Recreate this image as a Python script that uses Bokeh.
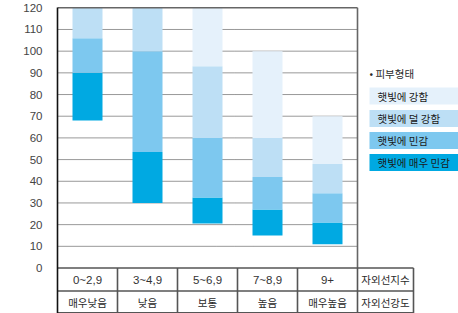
from bokeh.plotting import figure
from bokeh.models import Range1d, FixedTicker
from bokeh.core.properties import value
from bokeh.embed import file_html
from bokeh.resources import INLINE

# ---- data ----
uv_index = ["0~2,9", "3~4,9", "5~6,9", "7~8,9", "9+"]
uv_level = ["매우낮음", "낮음", "보통", "높음", "매우높음"]
row_titles = ["자외선지수", "자외선강도"]
legend_title = "• 피부형태"
series_names = ["햇빛에 강함", "햇빛에 덜 강함", "햇빛에 민감", "햇빛에 매우 민감"]
colors = ["#e5f1fb", "#bddff5", "#7dc8ef", "#00a9e2"]

very_sensitive_bottom = [68, 30, 20.5, 15, 11]
very_sensitive_top = [90, 53.5, 32.5, 27, 21]
sensitive_top = [106, 100, 60, 42, 34.5]
less_strong_top = [120, 120, 93, 60, 48]
strong_top = [120, 120, 120, 100, 70]
y_ticks = [0, 10, 20, 30, 40, 50, 60, 70, 80, 90, 100, 110, 120]

# ---- layout constants ----
W, H = 458, 313
left = 57
zero_px, top_px = 267.5, 7.3
px_unit = (zero_px - top_px) / 120.0
frame_w = W - left
x_max = frame_w / 60.0
y_top = 120 + top_px / px_unit
y_bot = -(H - zero_px) / px_unit
row_h = 23 / px_unit
n = len(uv_index)
xc = [i + 0.5 for i in range(n)]

p = figure(width=W, height=H, output_backend="svg", toolbar_location=None,
           x_range=Range1d(0, x_max), y_range=Range1d(y_bot, y_top),
           x_axis_location=None, min_border_left=left, min_border_top=0,
           min_border_right=0, min_border_bottom=0)
p.outline_line_color = None
p.xgrid.visible = False
p.ygrid.visible = False
p.background_fill_color = "white"

ax = p.yaxis[0]
ax.ticker = FixedTicker(ticks=y_ticks)
ax.bounds = (y_bot, 120)
ax.axis_line_color = "#111111"
ax.axis_line_width = 1.6
ax.major_tick_line_color = None
ax.minor_tick_line_color = None
ax.major_label_standoff = 9
ax.major_label_text_font = "Liberation Sans"
ax.major_label_text_font_size = "11.5px"
ax.major_label_text_color = "#444444"

# dotted grid lines
grid_vals = [t for t in y_ticks if 0 < t < 120]
p.segment(x0=[0] * len(grid_vals), x1=[n] * len(grid_vals), y0=grid_vals, y1=grid_vals,
          line_color="#333333", line_dash="1 1", line_width=1)

# bars
layers = [
    (very_sensitive_bottom, very_sensitive_top, colors[3]),
    (very_sensitive_top, sensitive_top, colors[2]),
    (sensitive_top, less_strong_top, colors[1]),
    (less_strong_top, strong_top, colors[0]),
]
for b, t, c in layers:
    p.vbar(x=xc, width=0.5, bottom=b, top=t, fill_color=c, line_color=None)

# frame border top / right
p.segment(x0=[0], x1=[n], y0=[120], y1=[120], line_color="#666666", line_width=1.6)
p.segment(x0=[n], x1=[n], y0=[0], y1=[120], line_color="#666666", line_width=1.6)

# table
x_end = n + 56 / 60.0
hy = [0, -row_h, y_bot + 0.3]
p.segment(x0=[0] * 3, x1=[x_end] * 3, y0=hy, y1=hy, line_color="#555555", line_width=1.6)
vx = [1, 2, 3, 4, 5, x_end]
p.segment(x0=vx, x1=vx, y0=[0] * len(vx), y1=[y_bot] * len(vx), line_color="#555555", line_width=1.6)

p.text(x=xc, y=[-row_h / 2] * n, text=uv_index, text_align="center", text_baseline="middle",
       text_font=value("Liberation Sans"), text_font_size="11.5px", text_color="#333333")
p.text(x=xc, y=[-row_h * 1.5] * n, text=uv_level, text_align="center", text_baseline="middle",
       text_font=value("Noto Sans CJK KR"), text_font_size="10.5px", text_color="#2a2a2a")
p.text(x=[(n + x_end) / 2] * 2, y=[-row_h / 2, -row_h * 1.5], text=row_titles,
       text_align="center", text_baseline="middle",
       text_font=value("Noto Sans CJK KR"), text_font_size="10.5px", text_color="#2a2a2a")

# legend
legend_y_title = (zero_px - 73) / px_unit
p.text(x=[n + 0.2], y=[legend_y_title], text=[legend_title], text_align="left", text_baseline="middle",
       text_font=value("Noto Sans CJK KR"), text_font_size="10.5px", text_color="#2a2a2a")
leg_px = [95.5, 118, 140, 162]
leg_y = [(zero_px - v) / px_unit for v in leg_px]
box_w = x_max - (n + 0.2)
p.rect(x=[n + 0.2 + box_w / 2] * 4, y=leg_y, width=box_w, height=17, height_units="screen",
       fill_color=colors, line_color=None)
p.text(x=[n + 0.333] * 4, y=leg_y, text=series_names, text_align="left", text_baseline="middle",
       text_font=value("Noto Sans CJK KR"), text_font_size="10.5px", text_color="#1a1a1a")

open("out.html", "w").write(file_html(p, INLINE))
